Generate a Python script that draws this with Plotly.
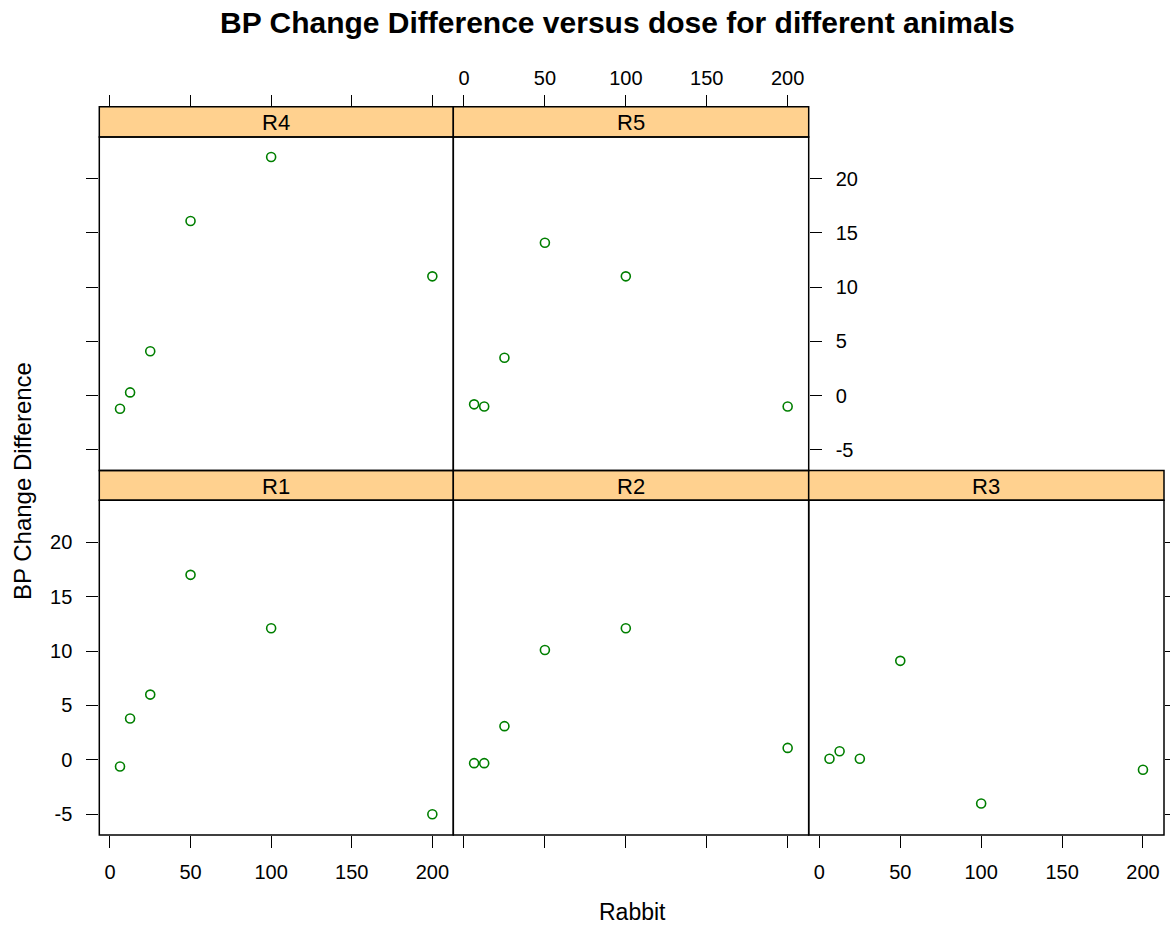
import plotly.graph_objects as go

# ---- data ----
dose = [6.25, 12.5, 25, 50, 100, 200]
animals = ["R1", "R2", "R3", "R4", "R5"]
bp_R1 = [-0.6, 3.8, 6.0, 17.0, 12.1, -5.0]
bp_R2 = [-0.3, -0.3, 3.1, 10.1, 12.1, 1.1]
bp_R3 = [0.1, 0.8, 0.1, 9.1, -4.0, -0.9]
bp_R4 = [-1.2, 0.3, 4.1, 16.1, 22.0, 11.0]
bp_R5 = [-0.8, -1.0, 3.5, 14.1, 11.0, -1.0]
bp_values = {"R1": bp_R1, "R2": bp_R2, "R3": bp_R3, "R4": bp_R4, "R5": bp_R5}
x_ticks = [0, 50, 100, 150, 200]
y_ticks = [-5, 0, 5, 10, 15, 20]

W, H = 1170, 925
def px(v): return v / W
def py(v): return 1 - v / H

cols = [(99.3, 453.3), (453.3, 808.7), (808.7, 1164.0)]
bottom_plot = (500.3, 835.0)
bottom_strip = (470.5, 500.3)
top_plot = (137.0, 470.5)
top_strip = (106.7, 137.0)

# panel placement: name -> (col, row)  row 0 = bottom
placement = {"R1": (0, 0), "R2": (1, 0), "R3": (2, 0), "R4": (0, 1), "R5": (1, 1)}

FONT = "Liberation Sans, Arial, sans-serif"
GREEN = "#007F00"
STRIP = "#FFD18F"
xr = [-6.6, 213.0]
yr = [-6.9, 23.85]

fig = go.Figure()
layout = dict(width=W, height=H, margin=dict(l=0, r=0, t=0, b=0),
              paper_bgcolor="white", plot_bgcolor="white", showlegend=False,
              font=dict(family=FONT, color="black"))
shapes, annotations = [], []

axis_common = dict(showgrid=False, zeroline=False, showline=False,
                   ticks="outside", ticklen=12, tickwidth=1.3, tickcolor="black",
                   tickfont=dict(family=FONT, size=20, color="black"))

for i, name in enumerate(animals, start=1):
    c, r = placement[name]
    x0, x1 = cols[c]
    p0, p1 = bottom_plot if r == 0 else top_plot
    s0, s1 = bottom_strip if r == 0 else top_strip
    xa = "x" if i == 1 else f"x{i}"
    ya = "y" if i == 1 else f"y{i}"
    xkey = "xaxis" if i == 1 else f"xaxis{i}"
    ykey = "yaxis" if i == 1 else f"yaxis{i}"

    fig.add_trace(go.Scatter(x=dose, y=bp_values[name], mode="markers", xaxis=xa, yaxis=ya,
                             marker=dict(symbol="circle-open", size=9, color=GREEN,
                                         line=dict(width=1.6, color=GREEN))))

    xd = dict(axis_common, domain=[px(x0), px(x1)], range=xr, tickvals=x_ticks,
              ticktext=[str(t) for t in x_ticks])
    yd = dict(axis_common, domain=[py(p1), py(p0)], range=yr, tickvals=y_ticks,
              ticktext=[str(t) for t in y_ticks])

    if r == 0:
        xd.update(side="bottom", anchor=ya, showticklabels=(name in ("R1", "R3")),
                  ticklabelstandoff=7)
    else:
        xd.update(side="top", anchor="free", position=py(s0),
                  showticklabels=(name == "R5"), ticklabelstandoff=2)

    if name in ("R1", "R4"):
        yd.update(side="left", anchor=xa, showticklabels=(name == "R1"), ticklabelstandoff=10)
    elif name == "R5":
        yd.update(side="right", anchor=xa, showticklabels=True, ticklabelstandoff=10)
    elif name == "R3":
        # ticks run to the right edge of the page
        yd.update(side="right", anchor=xa, showticklabels=False, ticklen=5)
    else:
        yd.update(anchor=xa, ticks="", showticklabels=False)

    layout[xkey] = xd
    layout[ykey] = yd

    # strip
    shapes.append(dict(type="rect", xref="paper", yref="paper",
                       x0=px(x0), x1=px(x1), y0=py(s1), y1=py(s0),
                       fillcolor=STRIP, line=dict(color="black", width=1.5), layer="above"))
    # panel frame
    shapes.append(dict(type="rect", xref="paper", yref="paper",
                       x0=px(x0), x1=px(x1), y0=py(p1), y1=py(p0),
                       line=dict(color="black", width=1.5), layer="above"))
    annotations.append(dict(text=name, xref="paper", yref="paper",
                            x=px((x0 + x1) / 2), y=py((s0 + s1) / 2 + 1),
                            xanchor="center", yanchor="middle", showarrow=False,
                            font=dict(family=FONT, size=22, color="black")))

annotations.append(dict(text="<b>BP Change Difference versus dose for different animals</b>",
                        xref="paper", yref="paper", x=px(617), y=py(23),
                        xanchor="center", yanchor="middle", showarrow=False,
                        font=dict(family=FONT, size=30, color="black")))
annotations.append(dict(text="Rabbit", xref="paper", yref="paper", x=px(632), y=py(912),
                        xanchor="center", yanchor="middle", showarrow=False,
                        font=dict(family=FONT, size=23, color="black")))
annotations.append(dict(text="BP Change Difference", xref="paper", yref="paper",
                        x=px(22), y=py(481), textangle=-90,
                        xanchor="center", yanchor="middle", showarrow=False,
                        font=dict(family=FONT, size=24, color="black")))

layout["shapes"] = shapes
layout["annotations"] = annotations
fig.update_layout(**layout)
fig.write_html("out.html", config={"displayModeBar": False},
               post_script="document.body.style.margin='0px';document.body.style.overflow='hidden';")
